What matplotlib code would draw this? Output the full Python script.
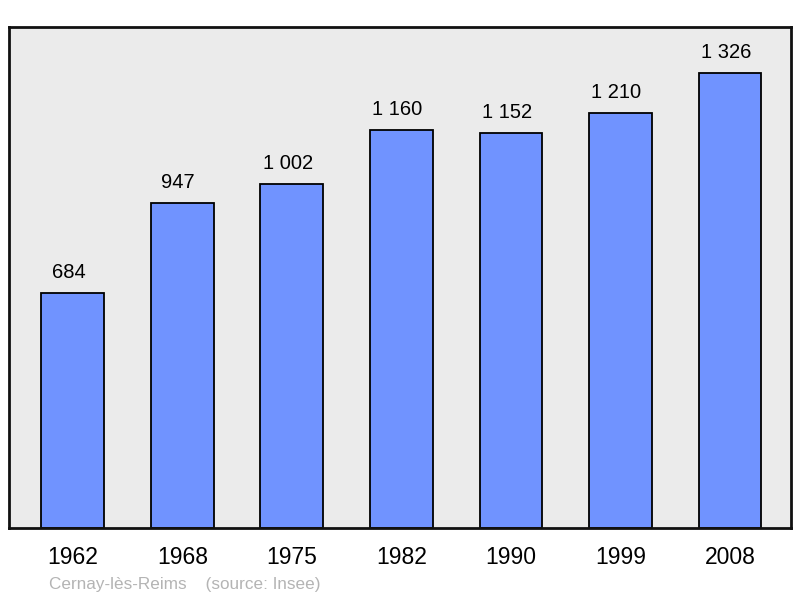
import matplotlib.pyplot as plt

plt.rcParams['font.family'] = ['Liberation Sans', 'DejaVu Sans']

years = ['1962', '1968', '1975', '1982', '1990', '1999', '2008']
population = [684, 947, 1002, 1160, 1152, 1210, 1326]
labels = ['684', '947', '1 002', '1 160', '1 152', '1 210', '1 326']

fig = plt.figure(figsize=(8, 5.98), dpi=100)
ax = fig.add_axes([9/800, 1 - 528/598, 782/800, 501/598])
ax.set_facecolor('#ebebeb')

x = range(len(years))
ax.bar(x, population, width=0.575, color='#7093ff', edgecolor='black', linewidth=1.3, zorder=2)
for i, (v, t) in enumerate(zip(population, labels)):
    ax.annotate(t, (i, v), xytext=(-3, 8), textcoords='offset points',
                ha='center', va='bottom', fontsize=14.5)

ax.set_xlim(-0.584, 6.557)
ax.set_ylim(0, 1460)
ax.set_xticks(list(x))
ax.set_xticklabels(years, fontsize=16.5)
ax.tick_params(axis='x', length=0, pad=13)
ax.set_yticks([])
for s in ax.spines.values():
    s.set_linewidth(2)
    s.set_color('#111111')

fig.text(49/800, 1 - 584/598, 'Cernay-lès-Reims    (source: Insee)',
         fontsize=12.3, color='#b4b4b4', va='center', ha='left')

fig.savefig('out.png', dpi=100)
